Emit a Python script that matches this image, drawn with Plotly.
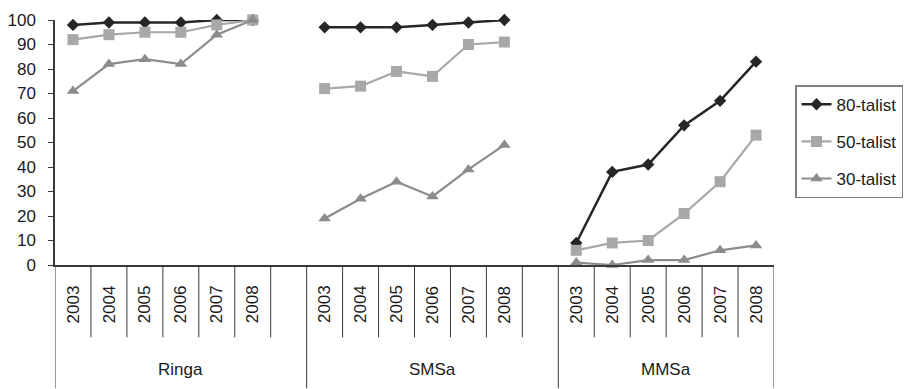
import plotly.graph_objects as go

groups = ["Ringa", "SMSa", "MMSa"]
years = ["2003", "2004", "2005", "2006", "2007", "2008"]

s80 = {"Ringa": [98, 99, 99, 99, 100, 100],
       "SMSa": [97, 97, 97, 98, 99, 100],
       "MMSa": [9, 38, 41, 57, 67, 83]}
s50 = {"Ringa": [92, 94, 95, 95, 98, 100],
       "SMSa": [72, 73, 79, 77, 90, 91],
       "MMSa": [6, 9, 10, 21, 34, 53]}
s30 = {"Ringa": [71, 82, 84, 82, 94, 100],
       "SMSa": [19, 27, 34, 28, 39, 49],
       "MMSa": [1, 0, 2, 2, 6, 8]}

series = [("80-talist", s80, "#262626", "diamond", 9.5, 2.5),
          ("50-talist", s50, "#a8a8a8", "square", 11, 2.2),
          ("30-talist", s30, "#8c8c8c", "triangle-up", 11, 2.2)]

# category slots: each group has its years, plus one empty slot between groups
slots = []  # (group, year) or None
group_spans = []
for gi, g in enumerate(groups):
    start = len(slots)
    for y in years:
        slots.append((g, y))
    if gi < len(groups) - 1:
        slots.append(None)
    group_spans.append((start, len(slots)))
n = len(slots)

FONT = "Arial, Liberation Sans, sans-serif"
TXT = "#1a1a1a"
LINE = "#3a3a3a"
FS = 17

fig = go.Figure()
for name, data, color, sym, msize, lw in series:
    xs, ys = [], []
    for i, s in enumerate(slots):
        xs.append(i + 0.5)
        if s is None:
            ys.append(None)
        else:
            ys.append(data[s[0]][years.index(s[1])])
    fig.add_trace(go.Scatter(
        x=xs, y=ys, name=name, mode="lines+markers",
        line=dict(color=color, width=lw),
        marker=dict(symbol=sym, size=msize, color=color, line=dict(width=0)),
        connectgaps=False, cliponaxis=False, legendgroup=name,
    ))

plot_top, plot_bottom = 20, 265.5
ph = plot_bottom - plot_top
def py(pix):
    return (plot_bottom - pix) / ph

shapes = []
full_bounds = {0, n}
for (a, b) in group_spans:
    full_bounds.add(a)
for b in range(0, n + 1):
    y1 = py(389) if b in full_bounds else py(338)
    shapes.append(dict(type="line", xref="x", yref="paper", x0=b, x1=b,
                       y0=0, y1=y1, line=dict(color=LINE, width=1)))

annotations = []
for i, s in enumerate(slots):
    if s is None:
        continue
    annotations.append(dict(x=i + 0.5, y=py(305), xref="x", yref="paper",
                            xanchor="center", yanchor="middle",
                            text=s[1], textangle=-90, showarrow=False,
                            font=dict(family=FONT, size=FS, color=TXT)))
for g, (a, b) in zip(groups, group_spans):
    annotations.append(dict(x=(a + b) / 2, y=py(370), xref="x", yref="paper",
                            xanchor="center", yanchor="middle",
                            text=g, showarrow=False,
                            font=dict(family=FONT, size=FS, color=TXT)))

fig.update_layout(
    width=908, height=389,
    margin=dict(l=55, r=134, t=20, b=389 - 265.5, autoexpand=False),
    paper_bgcolor="white", plot_bgcolor="white",
    font=dict(family=FONT, size=FS, color=TXT),
    xaxis=dict(range=[0, n], showgrid=False, zeroline=False, showticklabels=False,
               ticks="", showline=True, linecolor=LINE, linewidth=1.5,
               fixedrange=True, automargin=False),
    yaxis=dict(range=[0, 100], dtick=10, showgrid=False, zeroline=False,
               showline=True, linecolor=LINE, linewidth=1.5, ticks="outside",
               ticklen=5, tickcolor=LINE, ticklabelstandoff=9, automargin=False,
               tickfont=dict(family=FONT, size=FS, color=TXT)),
    legend=dict(x=(795 - 55) / 719, xanchor="left", y=py(142), yanchor="middle",
                bordercolor="#808080", borderwidth=1.5, bgcolor="white",
                traceorder="grouped", tracegroupgap=12,
                font=dict(family=FONT, size=FS, color=TXT)),
    shapes=shapes, annotations=annotations, showlegend=True,
)

fig.write_html("out.html", config={"displayModeBar": False})

# remove the browser's default page margin so the figure sits at (0, 0)
with open("out.html", "r", encoding="utf-8") as f:
    html = f.read()
html = html.replace("<head>", "<head><style>html,body{margin:0;padding:0;overflow:hidden;}</style>", 1)
with open("out.html", "w", encoding="utf-8") as f:
    f.write(html)
